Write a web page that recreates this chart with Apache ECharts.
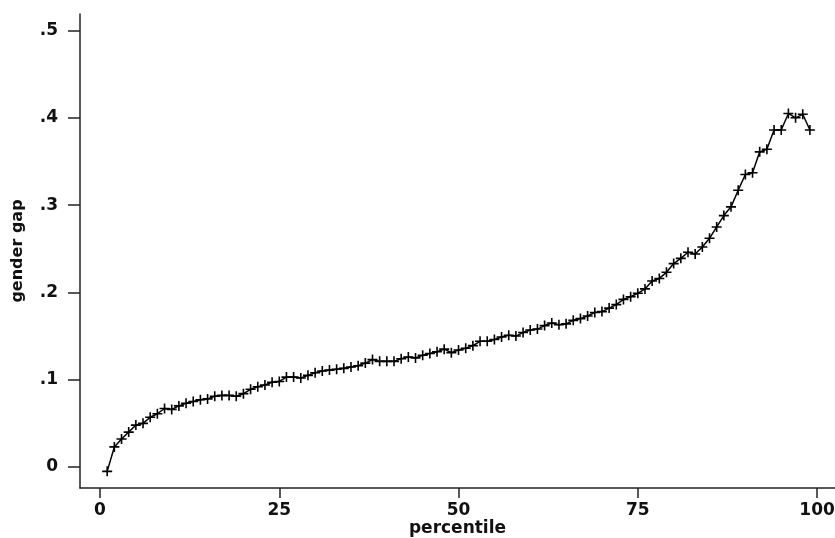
<!DOCTYPE html>
<html>
<head>
<meta charset="utf-8">
<script src="https://cdn.jsdelivr.net/npm/echarts@6/dist/echarts.min.js"></script>
<style>
html, body { margin: 0; padding: 0; background: #fff; }
#main { width: 835px; height: 538px; }
</style>
</head>
<body>
<div id="main"></div>
<script>
var percentiles = [];
for (var p = 1; p <= 99; p++) percentiles.push(p);

// gender gap, percentiles 1..99
var gap = [
    -0.005, 0.023, 0.032, 0.040, 0.048, 0.050, 0.057, 0.061, 0.067, 0.066,
    0.070, 0.073, 0.075, 0.077, 0.078, 0.081, 0.082, 0.082, 0.081, 0.084,
    0.089, 0.092, 0.094, 0.097, 0.098, 0.103, 0.103, 0.102, 0.105, 0.108,
    0.110, 0.111, 0.112, 0.113, 0.1145, 0.116, 0.119, 0.123, 0.121, 0.121,
    0.121, 0.124, 0.126, 0.125, 0.128, 0.130, 0.132, 0.135, 0.131, 0.134,
    0.136, 0.139, 0.144, 0.144, 0.146, 0.149, 0.151, 0.150, 0.154, 0.157,
    0.158, 0.162, 0.165, 0.163, 0.164, 0.168, 0.170, 0.173, 0.177, 0.178,
    0.182, 0.186, 0.192, 0.195, 0.199, 0.204, 0.213, 0.216, 0.223, 0.233,
    0.239, 0.246, 0.244, 0.252, 0.262, 0.275, 0.288, 0.298, 0.317, 0.335,
    0.337, 0.361, 0.364, 0.386, 0.386, 0.405, 0.400, 0.404, 0.386
];

var xTicks = [0, 25, 50, 75, 100];
var yTicks = [0, 0.1, 0.2, 0.3, 0.4, 0.5];

var chart = echarts.init(document.getElementById('main'));

var font = 'DejaVu Sans';
var plus = 'path://M4.2,0H5.8V4.2H10V5.8H5.8V10H4.2V5.8H0V4.2H4.2Z';

chart.setOption({
    backgroundColor: '#fff',
    animation: false,
    grid: { left: 80, right: 0, top: 14, bottom: 50, outerBoundsMode: 'none', containLabel: false },
    xAxis: {
        type: 'value',
        min: -2.79,
        max: 102.5,
        name: 'percentile',
        nameLocation: 'middle',
        nameGap: 32,
        nameMoveOverlap: false,
        nameTextStyle: { color: '#111', fontFamily: font, fontSize: 17, fontWeight: 'bold' },
        axisLine: { onZero: false, lineStyle: { color: '#222', width: 1.5 } },
        axisTick: { show: true, customValues: xTicks, length: 10, lineStyle: { color: '#222', width: 1.5 } },
        axisLabel: {
            customValues: xTicks,
            margin: 14,
            color: '#111',
            fontFamily: font,
            fontSize: 17,
            fontWeight: 'bold'
        },
        splitLine: { show: false }
    },
    yAxis: {
        type: 'value',
        min: -0.02405,
        max: 0.5189,
        name: 'gender gap',
        nameLocation: 'middle',
        nameRotate: 90,
        nameGap: 54,
        nameMoveOverlap: false,
        nameTextStyle: { color: '#111', fontFamily: font, fontSize: 16, fontWeight: 'bold' },
        axisLine: { onZero: false, lineStyle: { color: '#222', width: 1.5 } },
        axisTick: { show: true, customValues: yTicks, length: 12, lineStyle: { color: '#222', width: 1.5 } },
        axisLabel: {
            customValues: yTicks,
            margin: 22,
            color: '#111',
            fontFamily: font,
            fontSize: 17,
            fontWeight: 'bold',
            formatter: function (v) {
                if (Math.abs(v) < 1e-9) return '0';
                return String(Math.round(v * 10) / 10).replace('0.', '.');
            }
        },
        splitLine: { show: false }
    },
    series: [{
        type: 'line',
        data: percentiles.map(function (p, i) { return [p, gap[i]]; }),
        symbol: plus,
        symbolSize: 10,
        showAllSymbol: true,
        lineStyle: { color: '#000', width: 1.5 },
        itemStyle: { color: '#000' }
    }]
});
</script>
</body>
</html>
